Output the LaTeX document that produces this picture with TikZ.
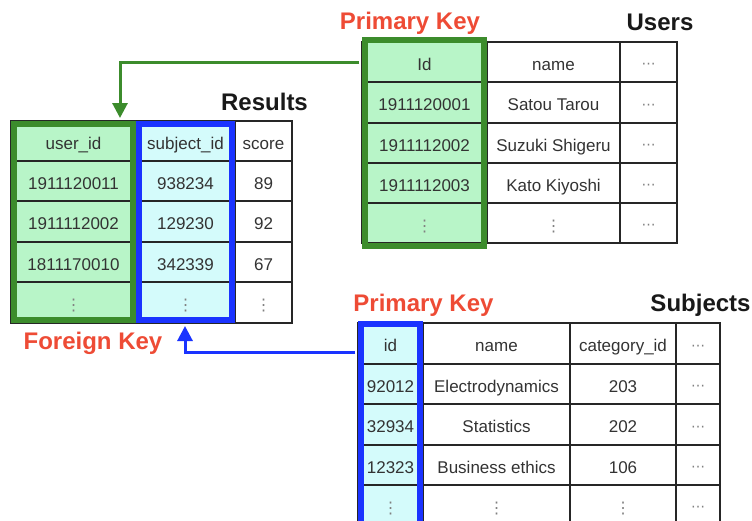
\documentclass[tikz,border=0pt]{standalone}
\usepackage{fontspec}
\setmainfont{Liberation Sans}
\newfontfamily\dejavu{DejaVu Sans}
\usetikzlibrary{arrows.meta}
\definecolor{gfill}{HTML}{B8F5C8}
\definecolor{cfill}{HTML}{D4FBFB}
\definecolor{gline}{HTML}{3C8C2C}
\definecolor{bline}{HTML}{1A33FF}
\definecolor{keyred}{HTML}{EE4B35}
\definecolor{txt}{HTML}{333333}
\tikzset{
  cell/.style={draw=black!85, line width=1.2pt, inner sep=0pt, text=txt,
    text height=16pt, text depth=0pt,
    font=\fontsize{17}{20}\selectfont},
  gframe/.style={draw=gline, line width=6pt, inner sep=0pt},
  bframe/.style={draw=bline, line width=6pt, inner sep=0pt},
  garrow/.style={draw=gline, line width=3pt, -{Triangle[length=15pt,width=15pt]}},
  barrow/.style={draw=bline, line width=3pt, -{Triangle[length=15pt,width=15pt]}},
  keylabel/.style={text=keyred, font=\fontsize{24}{28}\selectfont\bfseries, inner sep=0pt},
  tabtitle/.style={text=black!90, font=\fontsize{24}{28}\selectfont\bfseries, inner sep=0pt},
}
\newcommand\vd{\textcolor{black!50}{\dejavu\fontsize{16}{16}\selectfont ⋮}}
\newcommand\hd{\textcolor{black!50}{\dejavu\fontsize{14}{14}\selectfont\raisebox{1.5pt}{⋯}}}
\newcommand\tcell[7]{\node[cell, fill=#6, minimum width={#4-#2}, minimum height={#5-#3}] (#1) at ({(#2+#4)/2},{(#3+#5)/2}) {#7};}
\begin{document}
\begin{tikzpicture}[x=1pt, y=-1pt]
\clip (0,0) rectangle (752,520);
\fill[white] (0,0) rectangle (752,520);

% ---------- Results ----------
\foreach \ya/\yb/\t [count=\i] in {121/161/user\_id, 161/201/1911120011, 201/242/1911112002, 242/282/1811170010, 282/323/\vd}
  {\tcell{ru\i}{11}{\ya}{136}{\yb}{gfill}{\t}}
\foreach \ya/\yb/\t [count=\i] in {121/161/subject\_id, 161/201/938234, 201/242/129230, 242/282/342339, 282/323/\vd}
  {\tcell{rs\i}{136}{\ya}{235}{\yb}{cfill}{\t}}
\foreach \ya/\yb/\t [count=\i] in {121/161/score, 161/201/89, 201/242/92, 242/282/67, 282/323/\vd}
  {\tcell{rc\i}{235}{\ya}{292}{\yb}{white}{\t}}

% ---------- Users ----------
\foreach \ya/\yb/\t [count=\i] in {42/82/Id, 82/123/1911120001, 123/163/1911112002, 163/203/1911112003, 203/243/\vd}
  {\tcell{ui\i}{362}{\ya}{487}{\yb}{gfill}{\t}}
\foreach \ya/\yb/\t [count=\i] in {42/82/name, 82/123/Satou Tarou, 123/163/Suzuki Shigeru, 163/203/Kato Kiyoshi, 203/243/\vd}
  {\tcell{un\i}{487}{\ya}{620}{\yb}{white}{\t}}
\foreach \ya/\yb [count=\i] in {42/82, 82/123, 123/163, 163/203, 203/243}
  {\tcell{ux\i}{620}{\ya}{677}{\yb}{white}{\hd}}

% ---------- Subjects ----------
\foreach \ya/\yb/\t [count=\i] in {323/364/id, 364/404/92012, 404/445/32934, 445/485/12323, 485/525/\vd}
  {\tcell{si\i}{358}{\ya}{423}{\yb}{cfill}{\t}}
\foreach \ya/\yb/\t [count=\i] in {323/364/name, 364/404/Electrodynamics, 404/445/Statistics, 445/485/Business ethics, 485/525/\vd}
  {\tcell{sn\i}{423}{\ya}{570}{\yb}{white}{\t}}
\foreach \ya/\yb/\t [count=\i] in {323/364/category\_id, 364/404/203, 404/445/202, 445/485/106, 485/525/\vd}
  {\tcell{sc\i}{570}{\ya}{676}{\yb}{white}{\t}}
\foreach \ya/\yb [count=\i] in {323/364, 364/404, 404/445, 445/485, 485/525}
  {\tcell{sx\i}{676}{\ya}{720}{\yb}{white}{\hd}}

% ---------- key frames ----------
\node[gframe, minimum width=119, minimum height=196] (resU) at (73.5,222) {};
\node[bframe, minimum width=93, minimum height=196] (resS) at (185.5,222) {};
\node[gframe, minimum width=119, minimum height=206] (usrK) at (424.5,143) {};
\node[bframe, minimum width=59, minimum height=213] (subK) at (390.5,430.5) {};

% ---------- connectors ----------
\coordinate (gx) at (120,62);
\coordinate (bx) at (185,352);
\draw[garrow] ([xshift=-3pt]usrK.west |- gx) -| ([yshift=3pt]resU.north -| gx);
\draw[barrow] ([xshift=-3pt]subK.west |- bx) -| ([yshift=-3pt]resS.south -| bx);

% ---------- labels ----------
\node[keylabel] (pk1) at (410,23) {Primary Key};
\node[tabtitle] (tUsers) at (660,22) {Users};
\node[tabtitle] (tRes) at (264.5,102) {Results};
\node[keylabel] (fk) at (93,343) {Foreign Key};
\node[keylabel] (pk2) at (423.5,305) {Primary Key};
\node[tabtitle] (tSub) at (700.5,305) {Subjects};
\end{tikzpicture}
\end{document}
